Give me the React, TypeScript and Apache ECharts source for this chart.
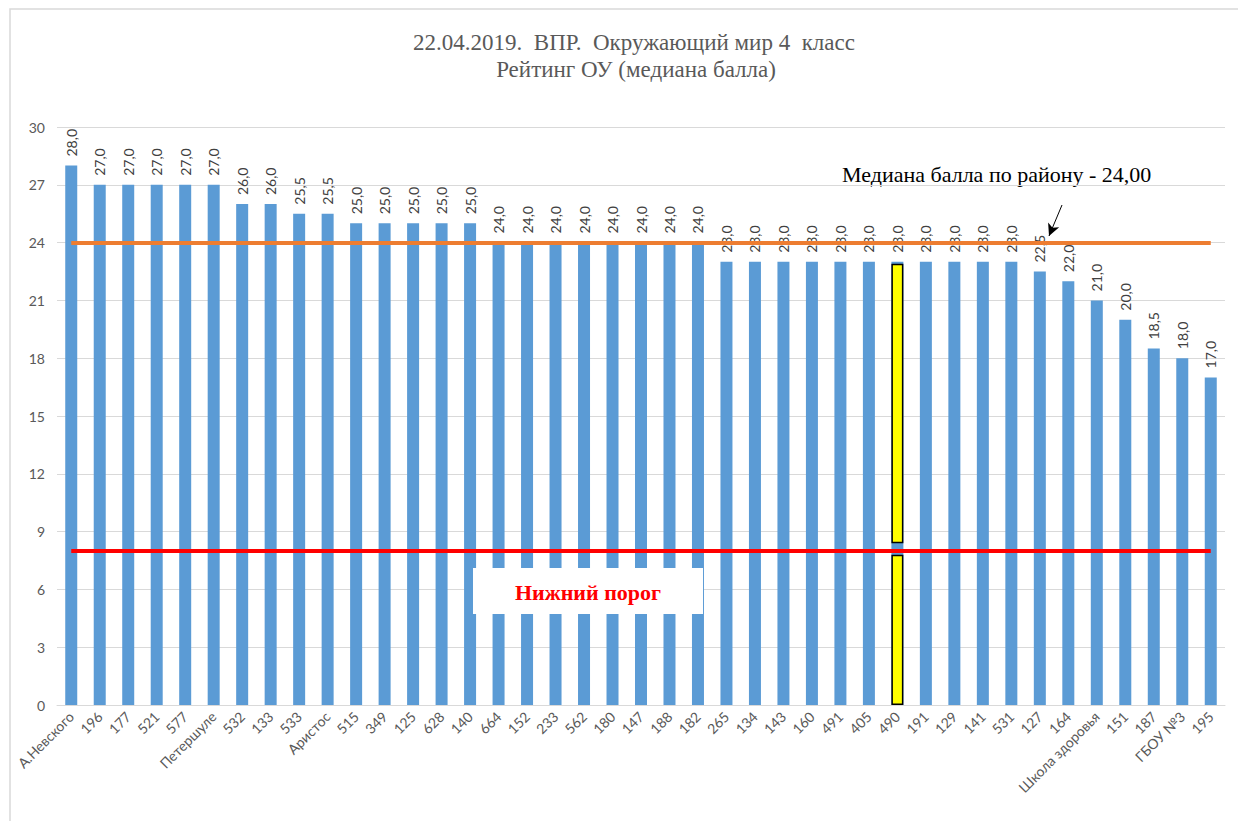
import React, { useEffect, useRef } from "react";
import * as echarts from "echarts";

const categories = [
  "А.Невского", "196", "177", "521", "577", "Петершуле", "532", "133", "533", "Аристос",
  "515", "349", "125", "628", "140", "664", "152", "233", "562", "180",
  "147", "188", "182", "265", "134", "143", "160", "491", "405", "490",
  "191", "129", "141", "531", "127", "164", "Школа здоровья", "151", "187", "ГБОУ №3", "195",
];
const medians = [
  28, 27, 27, 27, 27, 27, 26, 26, 25.5, 25.5,
  25, 25, 25, 25, 25, 24, 24, 24, 24, 24,
  24, 24, 24, 23, 23, 23, 23, 23, 23, 23,
  23, 23, 23, 23, 22.5, 22, 21, 20, 18.5, 18, 17,
];
const districtMedian = 24;
const lowerThreshold = 8;
const highlightSchool = "490";
// highlight segments for the selected school (bottom part, gap at threshold, top part)
const highlightBottom = 7.8;
const highlightGap = 0.6;
const highlightTop = 14.5;
const yTicks = { min: 0, max: 30, interval: 3 };

const title1 = "22.04.2019.  ВПР.  Окружающий мир 4  класс";
const title2 = "Рейтинг ОУ (медиана балла)";
const medianNote = "Медиана балла по району - 24,00";
const thresholdNote = "Нижний порог";

export default function App() {
  const ref = useRef<HTMLDivElement>(null);
  useEffect(() => {
    document.body.style.margin = "0";
    const chart = echarts.init(ref.current!, null, { renderer: "svg" });
    const hiIdx = categories.indexOf(highlightSchool);
    const seg = (v: number) => categories.map((_, i) => (i === hiIdx ? v : null));
    const hlStyle = { color: "#FFFF00", borderColor: "#000", borderWidth: 1.5 };
    const last = categories.length - 1;
    chart.setOption({
      animation: false,
      backgroundColor: "#fff",
      grid: { left: 57, right: 13, top: 127, bottom: 116, containLabel: false },
      xAxis: {
        type: "category",
        data: categories,
        axisTick: { show: false },
        axisLine: { lineStyle: { color: "#d9d9d9", width: 1 } },
        axisLabel: {
          interval: 0,
          rotate: 45,
          color: "#595959",
          fontFamily: "Lato",
          fontSize: 14,
          margin: 9,
        },
      },
      yAxis: {
        type: "value",
        min: yTicks.min,
        max: yTicks.max,
        interval: yTicks.interval,
        axisLine: { show: false },
        axisTick: { show: false },
        splitLine: { lineStyle: { color: "#d9d9d9", width: 1 } },
        axisLabel: { color: "#595959", fontFamily: "Lato", fontSize: 14, margin: 12 },
      },
      series: [
        {
          type: "bar",
          data: medians,
          barWidth: 12,
          barGap: "-100%",
          itemStyle: { color: "#5B9BD5" },
          label: {
            show: true,
            position: "top",
            rotate: 90,
            align: "left",
            verticalAlign: "middle",
            distance: 9,
            color: "#404040",
            fontFamily: "Lato",
            fontSize: 14,
            formatter: (p: any) => p.value.toFixed(1).replace(".", ","),
          },
          markLine: {
            silent: true,
            symbol: ["none", "none"],
            label: { show: false },
            data: [
              [
                { coord: [0, districtMedian], lineStyle: { color: "#ED7D31", width: 4, type: "solid" } },
                { coord: [last, districtMedian] },
              ],
              [
                { coord: [0, lowerThreshold], lineStyle: { color: "#FF0000", width: 4, type: "solid" } },
                { coord: [last, lowerThreshold] },
              ],
            ],
          },
        },
        { type: "bar", stack: "hl", barWidth: 12, data: seg(highlightBottom), itemStyle: hlStyle, z: 3 },
        { type: "bar", stack: "hl", barWidth: 12, data: seg(highlightGap), itemStyle: { color: "transparent" }, z: 3 },
        { type: "bar", stack: "hl", barWidth: 12, data: seg(highlightTop), itemStyle: hlStyle, z: 3 },
        {
          type: "line",
          data: [],
          markLine: {
            silent: true,
            symbol: ["none", "arrow"],
            symbolSize: [9, 12],
            label: { show: false },
            lineStyle: { color: "#000", width: 1, type: "solid" },
            data: [[{ x: 1062, y: 205 }, { x: 1049, y: 236 }]],
          },
        },
      ],
      graphic: [
        {
          type: "rect",
          z: 0,
          shape: { x: 10, y: 9, width: 1240, height: 830 },
          style: { fill: "none", stroke: "#d9d9d9", lineWidth: 1.5 },
        },
        {
          type: "text",
          x: 634,
          y: 42,
          style: {
            text: title1,
            fill: "#595959",
            font: '23px "Liberation Serif"',
            align: "center",
            verticalAlign: "middle",
          },
        },
        {
          type: "text",
          x: 636,
          y: 69,
          style: {
            text: title2,
            fill: "#595959",
            font: '23px "Liberation Serif"',
            align: "center",
            verticalAlign: "middle",
          },
        },
        {
          type: "text",
          x: 842,
          y: 163,
          style: { text: medianNote, fill: "#000", font: '22px "Liberation Serif"' },
        },
        {
          type: "group",
          z: 100,
          children: [
            { type: "rect", z: 100, shape: { x: 473, y: 568, width: 230, height: 46 }, style: { fill: "#fff" } },
            {
              type: "text",
              z: 101,
              x: 588,
              y: 592,
              style: {
                text: thresholdNote,
                fill: "#FF0000",
                font: 'bold 22px "Liberation Serif"',
                align: "center",
                verticalAlign: "middle",
              },
            },
          ],
        },
      ],
    });
    return () => chart.dispose();
  }, []);
  return <div ref={ref} style={{ width: 1238, height: 821 }} />;
}
